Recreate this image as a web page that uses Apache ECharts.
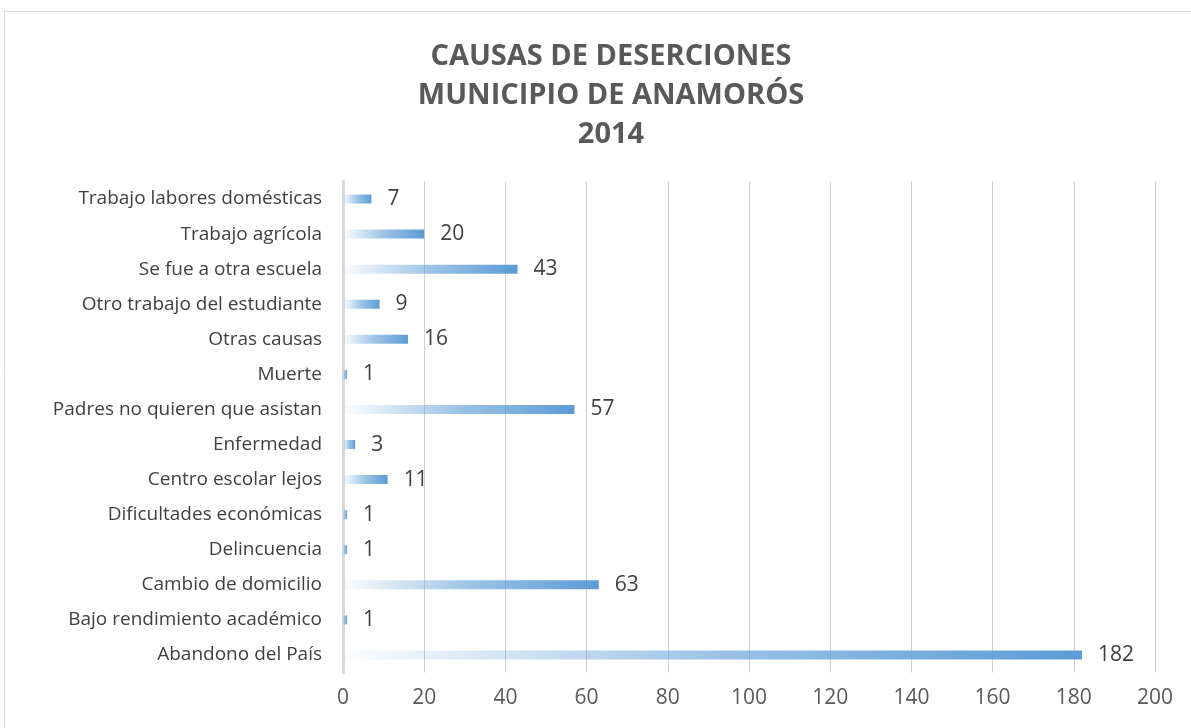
<!DOCTYPE html>
<html>
<head>
<meta charset="utf-8">
<script src="https://cdn.jsdelivr.net/npm/echarts@6/dist/echarts.min.js"></script>
<style>
  html, body { margin: 0; padding: 0; background: #fff; }
  #chart { width: 1191px; height: 728px; }
</style>
</head>
<body>
<div id="chart"></div>
<script>
// bottom-to-top order, as the category axis draws them
const causas = [
  'Abandono del País',
  'Bajo rendimiento académico',
  'Cambio de domicilio',
  'Delincuencia',
  'Dificultades económicas',
  'Centro escolar lejos',
  'Enfermedad',
  'Padres no quieren que asistan',
  'Muerte',
  'Otras causas',
  'Otro trabajo del estudiante',
  'Se fue a otra escuela',
  'Trabajo agrícola',
  'Trabajo labores domésticas'
];
const desertores = [182, 1, 63, 1, 1, 11, 3, 57, 1, 16, 9, 43, 20, 7];
const xTicks = [0, 200, 20];  // min, max, interval

const fontFam = '"Open Sans", "Noto Sans", sans-serif';
const barColor = '#5B9BD5';

const myChart = echarts.init(document.getElementById('chart'));

const option = {
  backgroundColor: '#fff',
  animation: false,
  title: {
    text: 'CAUSAS DE DESERCIONES\nMUNICIPIO DE ANAMORÓS\n2014',
    left: 606,
    top: 32,
    textAlign: 'center',
    textStyle: {
      fontFamily: fontFam,
      fontSize: 29,
      fontWeight: 'bold',
      color: '#595959',
      lineHeight: 39
    }
  },
  graphic: [{
    type: 'rect',
    shape: { x: 4.5, y: 11.5, width: 1200, height: 740 },
    style: { fill: 'none', stroke: '#D9D9D9', lineWidth: 1 },
    silent: true
  }],
  grid: {
    left: 343,
    right: 36,
    top: 181.5,
    bottom: 55.5
  },
  xAxis: {
    type: 'value',
    min: xTicks[0],
    max: xTicks[1],
    interval: xTicks[2],
    axisLine: { show: false },
    axisTick: { show: false },
    axisLabel: {
      margin: 15,
      fontFamily: fontFam,
      fontSize: 21,
      color: '#595959'
    },
    splitLine: { lineStyle: { color: '#D0D0D0', width: 1 } }
  },
  yAxis: {
    type: 'category',
    data: causas,
    axisLine: { lineStyle: { color: '#D9D9D9', width: 3 } },
    axisTick: { show: false },
    axisLabel: {
      margin: 21,
      fontFamily: fontFam,
      fontSize: 19,
      color: '#404040'
    }
  },
  series: [{
    type: 'bar',
    data: desertores,
    barWidth: 9,
    itemStyle: {
      color: new echarts.graphic.LinearGradient(0, 0, 1, 0, [
        { offset: 0, color: 'rgba(91,155,213,0.02)' },
        { offset: 0.5, color: 'rgba(91,155,213,0.6)' },
        { offset: 1, color: barColor }
      ])
    },
    label: {
      show: true,
      position: 'right',
      distance: 16,
      fontFamily: fontFam,
      fontSize: 21,
      color: '#404040'
    }
  }]
};

myChart.setOption(option);
</script>
</body>
</html>
